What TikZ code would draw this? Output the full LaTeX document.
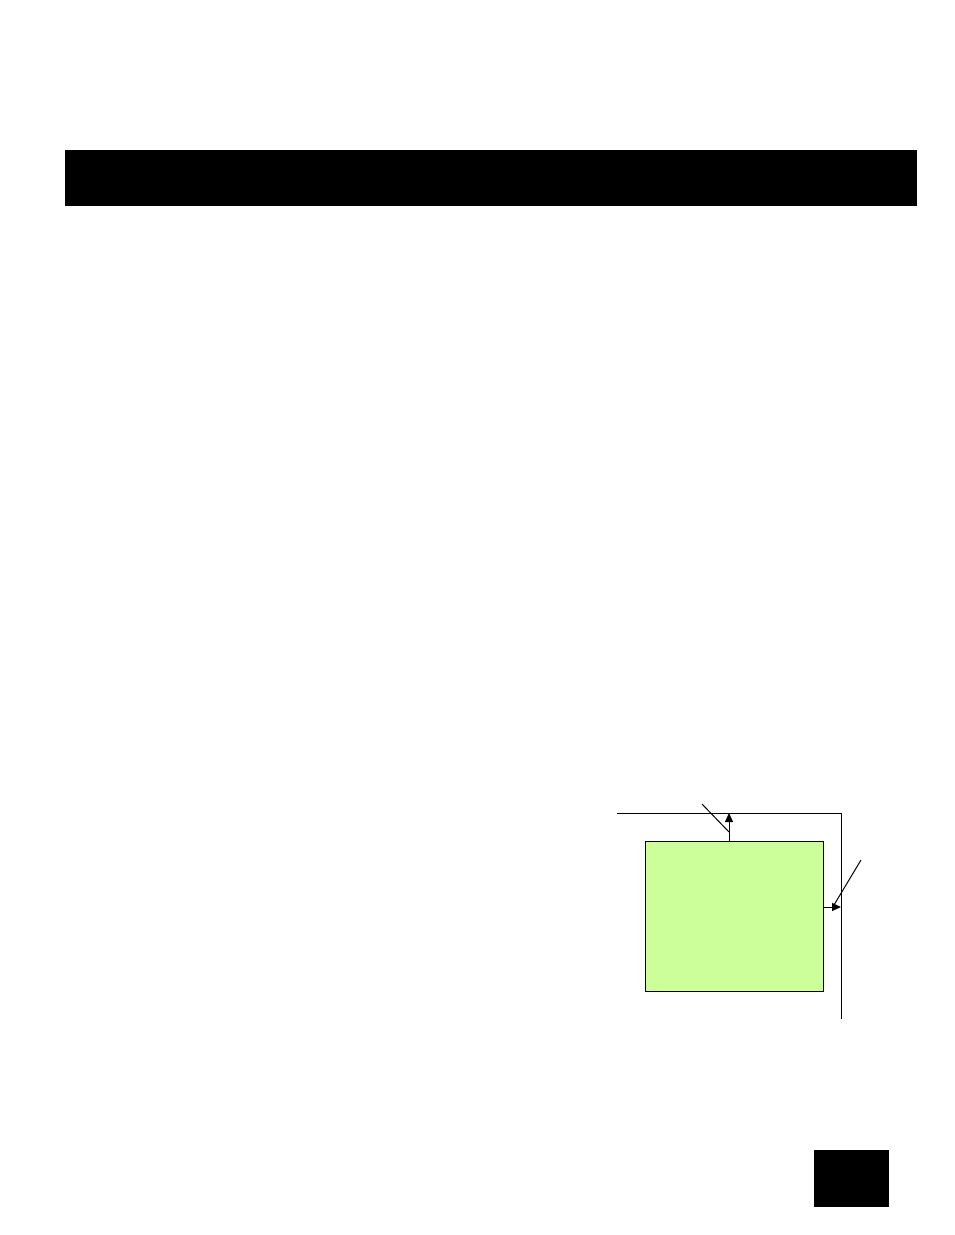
\documentclass[tikz,border=0pt]{standalone}
\usetikzlibrary{arrows.meta}
\definecolor{boxGreen}{HTML}{CCFF99}

\begin{document}
\begin{tikzpicture}[x=1pt,y=-1pt,%%
  barStyle/.style={fill=black,draw=none,inner sep=0pt,anchor=north west},%%
  boxStyle/.style={draw,line width=1.4pt,fill=boxGreen,inner sep=0pt,anchor=north west,
    minimum width=178pt,minimum height=150pt},%%
  lineStyle/.style={-,line width=1pt},%%
  arrowStyle/.style={-{Triangle[length=9pt,width=8pt]},line width=1pt}%%
]
\useasboundingbox (0,0) rectangle (954,1235);
%%
%% The header bar and the page number box.
\node[barStyle,minimum width=852pt,minimum height=56pt] (header) at (65,150) {};
\node[barStyle,minimum width=75pt,minimum height=57pt] (pagebox) at (814,1150) {};
%%
%% The block.
\node[boxStyle] (block) at (645,841) {};
%%
\coordinate (wireStart) at (617,813);
\coordinate (wireCorner) at (841,813);
\coordinate (wireEnd) at (841,1019);
\coordinate (topHit) at (block.north -| 729,0);
\coordinate (topTip) at (729,813);
\coordinate (rightTip) at (841,907);
%%
%% The wire round the block.
\draw[lineStyle] (wireStart) -- (wireCorner) -- (wireEnd);
%% Outputs of the block.
\draw[arrowStyle] (topHit) -- (topTip);
\draw[arrowStyle] (block.east |- rightTip) -- (rightTip);
%% Leader lines.
\coordinate (topLeader) at (702,804);
\coordinate (topLeaderEnd) at (729,832);
\coordinate (rightLeader) at (861,860);
\coordinate (rightLeaderEnd) at (834,905);
\draw[lineStyle] (topLeader) -- (topLeaderEnd);
\draw[lineStyle] (rightLeader) -- (rightLeaderEnd);
\end{tikzpicture}
\end{document}
